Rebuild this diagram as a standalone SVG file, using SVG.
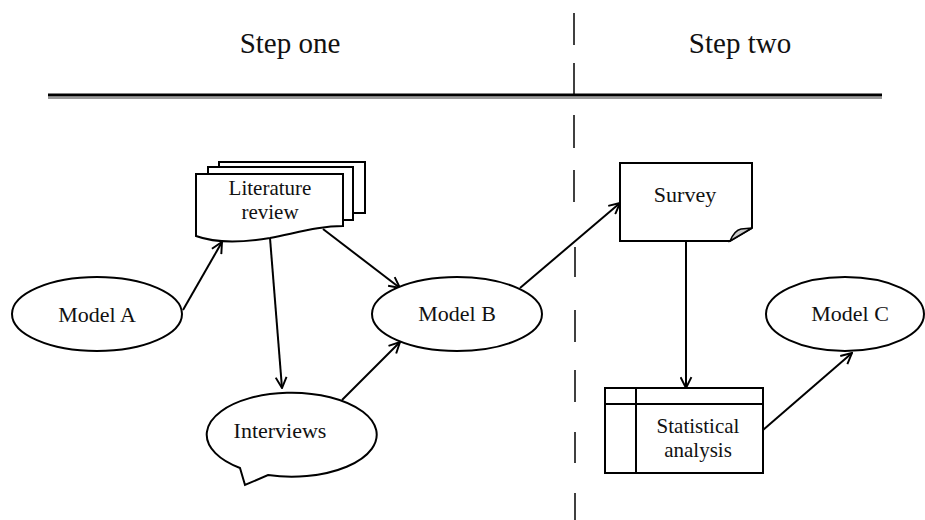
<svg xmlns="http://www.w3.org/2000/svg" width="925" height="520" viewBox="0 0 925 520">
  <defs>
    <marker id="arr" viewBox="0 0 12 12" refX="11" refY="6" markerWidth="13" markerHeight="13" markerUnits="userSpaceOnUse" orient="auto">
      <path d="M1,1 L11,6 L1,11" fill="none" stroke="#000" stroke-width="1.8"/>
    </marker>
  </defs>
  <style>
    .shape { fill: #fff; stroke: #000; stroke-width: 2; }
    .lbl { font-family: "Liberation Serif", "Times New Roman", serif; font-size: 22px; fill: #111; text-anchor: middle; }
    .lbl2 { font-family: "Liberation Serif", "Times New Roman", serif; font-size: 21px; fill: #111; text-anchor: middle; }
    .head { font-family: "Liberation Serif", "Times New Roman", serif; font-size: 29px; fill: #111; text-anchor: middle; }
    .conn { fill: none; stroke: #000; stroke-width: 2; marker-end: url(#arr); }
    .dash { stroke: #000; stroke-width: 1.5; }
  </style>
  <rect width="925" height="520" fill="#fff"/>

  <g id="header">
    <text class="head" x="290" y="53">Step one</text>
    <text class="head" x="740" y="53">Step two</text>
    <line x1="48" y1="98" x2="882" y2="98" stroke="#999" stroke-width="2"/>
    <line x1="48" y1="95" x2="882" y2="95" stroke="#000" stroke-width="3"/>
  </g>

  <g id="divider">
    <line class="dash" x1="574" y1="13" x2="574" y2="45"/>
    <line class="dash" x1="574" y1="63" x2="574" y2="95"/>
    <line class="dash" x1="574" y1="115" x2="574" y2="148"/>
    <line class="dash" x1="574" y1="170" x2="574" y2="202"/>
    <line class="dash" x1="575" y1="247" x2="575" y2="277"/>
    <line class="dash" x1="575" y1="310" x2="575" y2="342"/>
    <line class="dash" x1="575" y1="370" x2="575" y2="402"/>
    <line class="dash" x1="575" y1="432" x2="575" y2="463"/>
    <line class="dash" x1="575" y1="493" x2="575" y2="520"/>
  </g>

  <g id="connectors">
    <line class="conn" x1="183" y1="310" x2="222" y2="242"/>
    <line class="conn" x1="270" y1="238" x2="282" y2="388"/>
    <line class="conn" x1="323" y1="229" x2="400" y2="288"/>
    <line class="conn" x1="342" y1="400" x2="400" y2="342"/>
    <line class="conn" x1="520" y1="288" x2="620" y2="203"/>
    <line class="conn" x1="686" y1="241" x2="686" y2="388"/>
    <line class="conn" x1="763" y1="430" x2="852" y2="353"/>
  </g>

  <g id="model-a">
    <ellipse class="shape" cx="97" cy="314" rx="85" ry="37"/>
    <text class="lbl" x="97" y="322">Model A</text>
  </g>

  <g id="literature-review">
    <rect class="shape" x="219" y="162" width="146" height="51"/>
    <rect class="shape" x="208" y="167" width="145" height="53"/>
    <path class="shape" d="M196,174 H343 V226 C320,226 300,232 270,238 C240,243 215,243 196,236 Z"/>
    <text class="lbl2" x="270" y="195">Literature</text>
    <text class="lbl2" x="270" y="219">review</text>
  </g>

  <g id="interviews">
    <path class="shape" d="M240,468 A85,42 0 1 1 268,475 L245,485 Z"/>
    <text class="lbl" x="280" y="438">Interviews</text>
  </g>

  <g id="model-b">
    <ellipse class="shape" cx="457" cy="314" rx="85" ry="37"/>
    <text class="lbl" x="457" y="321">Model B</text>
  </g>

  <g id="survey">
    <path class="shape" d="M620,163 H752 V228 L730,241 H620 Z"/>
    <path d="M730,241 C733,234 736,230 741,229 L752,228 Z" fill="#ccc" stroke="#000" stroke-width="1.5"/>
    <text class="lbl" x="685" y="202">Survey</text>
  </g>

  <g id="statistical-analysis">
    <rect class="shape" x="605" y="388" width="158" height="85"/>
    <line x1="636" y1="388" x2="636" y2="473" stroke="#000" stroke-width="2"/>
    <line x1="605" y1="404" x2="763" y2="404" stroke="#000" stroke-width="2"/>
    <text class="lbl2" x="698" y="433">Statistical</text>
    <text class="lbl2" x="698" y="457">analysis</text>
  </g>

  <g id="model-c">
    <ellipse class="shape" cx="845" cy="314" rx="79" ry="37"/>
    <text class="lbl" x="850" y="321">Model C</text>
  </g>
</svg>
